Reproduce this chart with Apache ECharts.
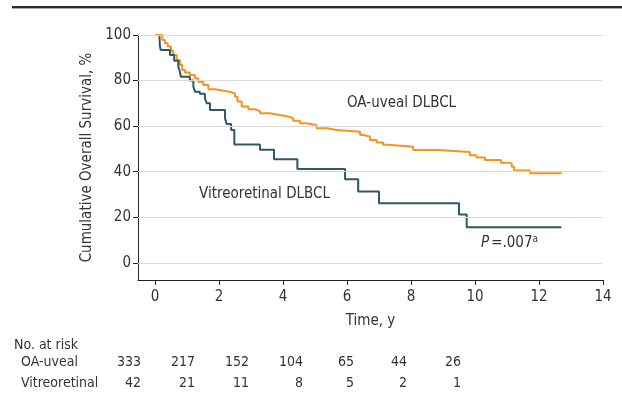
<!DOCTYPE html>
<html>
<head>
<meta charset="utf-8">
<script src="https://cdn.jsdelivr.net/npm/echarts@6/dist/echarts.min.js"></script>
<style>
  html, body { margin: 0; padding: 0; background: #fff; }
  #chart { width: 622px; height: 408px; }
</style>
</head>
<body>
<div id="chart"></div>
<script>
// Kaplan-Meier curves: [time (y), survival (%)]
var oaUveal = [
  [0, 100], [0.16, 100], [0.23, 97.8], [0.31, 96.4], [0.40, 94.9], [0.50, 93.1],
  [0.57, 91.2], [0.68, 89.0], [0.78, 86.8], [0.85, 84.6], [0.94, 83.5], [1.09, 82.5],
  [1.25, 81.0], [1.35, 79.5], [1.51, 78.1], [1.67, 76.2], [1.88, 75.4], [2.19, 74.9],
  [2.40, 74.4], [2.50, 72.9], [2.58, 70.8], [2.71, 68.6], [2.92, 67.4], [3.13, 66.6],
  [3.28, 65.7], [3.59, 64.9], [3.91, 64.2], [4.17, 63.5], [4.32, 62.4], [4.53, 61.3],
  [4.74, 60.5], [5.05, 59.1], [5.37, 58.3], [5.68, 57.6], [6.41, 56.1], [6.51, 55.4],
  [6.72, 53.9], [6.93, 52.8], [7.13, 51.8], [7.29, 51.0], [8.07, 49.5], [8.85, 48.7],
  [9.84, 47.2], [10.05, 46.3], [10.31, 45.2], [10.81, 44.0], [11.04, 43.6], [11.15, 42.2],
  [11.22, 40.5], [11.72, 39.3], [12.71, 39.3]
];
var vitreoretinal = [
  [0.14, 100], [0.15, 95.6], [0.18, 93.4], [0.47, 91.2], [0.60, 88.7], [0.73, 86.1],
  [0.78, 83.9], [0.81, 81.7], [1.09, 80.0], [1.20, 77.3], [1.25, 75.1], [1.40, 74.2],
  [1.56, 72.2], [1.62, 70.0], [1.72, 67.1], [2.19, 63.5], [2.24, 61.0], [2.38, 58.3],
  [2.48, 52.0], [3.28, 49.6], [3.72, 45.5], [4.45, 41.2], [5.94, 36.7], [6.35, 31.3],
  [7.00, 26.2], [9.50, 21.2], [9.74, 15.7], [12.70, 15.7]
];

var xTicks = [0, 2, 4, 6, 8, 10, 12, 14];
var yTicks = [0, 20, 40, 60, 80, 100];

// number at risk table
var riskOA = [333, 217, 152, 104, 65, 44, 26];
var riskVR = [42, 21, 11, 8, 5, 2, 1];

var FONT = '"Liberation Sans Narrow", "DejaVu Sans Condensed", "Noto Sans", sans-serif';
var TXT = '#333';
var orange = '#f7931e';
var teal = '#2e5866';

var myChart = echarts.init(document.getElementById('chart'), null, { renderer: 'canvas' });

// risk table texts, right-aligned columns
var riskGraphics = [];
var colRight = [141, 195, 249, 303, 354, 407, 461];
for (var i = 0; i < riskOA.length; i++) {
  riskGraphics.push({
    type: 'text', x: colRight[i], y: 355,
    style: { text: String(riskOA[i]), font: '14px ' + FONT, fill: TXT, align: 'right', verticalAlign: 'top' }
  });
  riskGraphics.push({
    type: 'text', x: colRight[i], y: 376,
    style: { text: String(riskVR[i]), font: '14px ' + FONT, fill: TXT, align: 'right', verticalAlign: 'top' }
  });
}

var option = {
  animation: false,
  backgroundColor: '#fff',
  grid: { left: 138, right: 19, top: 35, bottom: 128, containLabel: false },
  xAxis: {
    type: 'value',
    min: -0.53,
    max: 14,
    name: 'Time, y',
    nameLocation: 'middle',
    nameGap: 34,
    nameTextStyle: { fontFamily: FONT, fontSize: 15, color: TXT },
    axisLine: { show: true, onZero: false, lineStyle: { color: '#222', width: 1 } },
    axisTick: { show: true, length: 5, customValues: xTicks, lineStyle: { color: '#222' } },
    axisLabel: { customValues: xTicks, fontFamily: FONT, fontSize: 15, color: TXT, margin: 10 },
    splitLine: { show: false }
  },
  yAxis: {
    type: 'value',
    min: -7.5,
    max: 100,
    name: 'Cumulative Overall Survival, %',
    nameLocation: 'middle',
    nameGap: 38,
    nameRotate: 90,
    nameTextStyle: { fontFamily: FONT, fontSize: 15, color: TXT },
    axisLine: { show: true, onZero: false, lineStyle: { color: '#222', width: 1 } },
    axisTick: { show: true, length: 5, customValues: yTicks, lineStyle: { color: '#222' } },
    axisLabel: { customValues: yTicks, fontFamily: FONT, fontSize: 15, color: TXT, margin: 7 },
    splitLine: { show: false }
  },
  series: [
    {
      // gridlines
      type: 'line',
      data: [],
      z: 1,
      markLine: {
        silent: true,
        symbol: ['none', 'none'],
        label: { show: false },
        lineStyle: { color: '#dadada', width: 1, type: 'solid' },
        data: yTicks.map(function (v) { return { yAxis: v }; })
      }
    },
    {
      name: 'OA-uveal DLBCL',
      type: 'line',
      step: 'end',
      showSymbol: false,
      z: 3,
      lineStyle: { color: orange, width: 2 },
      data: oaUveal
    },
    {
      name: 'Vitreoretinal DLBCL',
      type: 'line',
      step: 'end',
      showSymbol: false,
      z: 4,
      lineStyle: { color: teal, width: 2 },
      data: vitreoretinal
    }
  ],
  graphic: [
    // top rule
    { type: 'rect', left: 12, top: 6, shape: { width: 610, height: 2 }, style: { fill: '#2a2a2a' } },
    { type: 'rect', left: 12, top: 8, shape: { width: 610, height: 1 }, style: { fill: '#aaa' } },
    { type: 'text', left: 347, top: 96, style: { text: 'OA-uveal DLBCL', font: '15px ' + FONT, fill: TXT } },
    { type: 'text', left: 199, top: 187, style: { text: 'Vitreoretinal DLBCL', font: '15px ' + FONT, fill: TXT } },
    {
      type: 'text', left: 481, top: 234,
      style: {
        text: '{i|P}=.007{s|a}',
        font: '15px ' + FONT, fill: TXT,
        rich: {
          i: { fontStyle: 'italic', fontFamily: FONT, fontSize: 15, fill: TXT, padding: [0, 2, 0, 0] },
          s: { fontFamily: FONT, fontSize: 10, fill: TXT, verticalAlign: 'top', padding: [0, 0, 8, 0] }
        }
      }
    },
    { type: 'text', left: 14, top: 338, style: { text: 'No. at risk', font: '14px ' + FONT, fill: TXT } },
    { type: 'text', left: 21, top: 355, style: { text: 'OA-uveal', font: '14px ' + FONT, fill: TXT } },
    { type: 'text', left: 21, top: 376, style: { text: 'Vitreoretinal', font: '14px ' + FONT, fill: TXT } }
  ].concat(riskGraphics)
};

myChart.setOption(option);
</script>
</body>
</html>
